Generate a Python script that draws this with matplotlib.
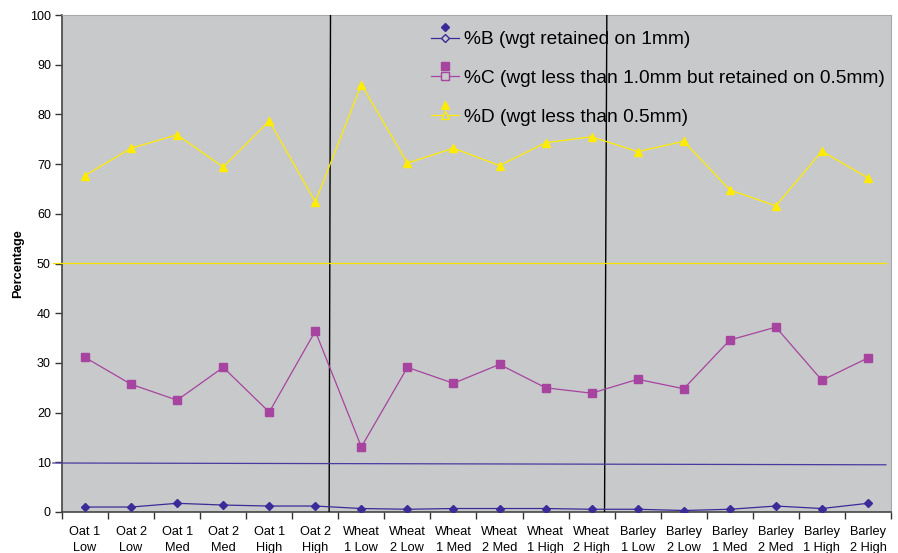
import numpy as np
import matplotlib
matplotlib.use("Agg")
import matplotlib.pyplot as plt
from matplotlib.lines import Line2D
from matplotlib.legend_handler import HandlerLine2D

plt.rcParams['font.family'] = ['Liberation Sans', 'DejaVu Sans']

# categories (two-line tick labels)
categories = ["Oat 1\nLow", "Oat 2\nLow", "Oat 1\nMed", "Oat 2\nMed", "Oat 1\nHigh", "Oat 2\nHigh",
              "Wheat\n1 Low", "Wheat\n2 Low", "Wheat\n1 Med", "Wheat\n2 Med", "Wheat\n1 High", "Wheat\n2 High",
              "Barley\n1 Low", "Barley\n2 Low", "Barley\n1 Med", "Barley\n2 Med", "Barley\n1 High", "Barley\n2 High"]

# series values
pct_b = [1.0, 1.0, 1.75, 1.4, 1.2, 1.2, 0.7, 0.55, 0.7, 0.7, 0.7, 0.55, 0.55, 0.3, 0.55, 1.2, 0.7, 1.75]
pct_c = [31.1, 25.7, 22.5, 29.1, 20.1, 36.4, 13.1, 29.1, 25.9, 29.7, 25.0, 23.9, 26.7, 24.8, 34.6, 37.2, 26.5, 31.0]
pct_d = [67.7, 73.2, 75.9, 69.4, 78.7, 62.4, 86.0, 70.2, 73.2, 69.7, 74.3, 75.5, 72.5, 74.6, 64.8, 61.6, 72.6, 67.2]

labels = ["%B (wgt retained on 1mm)",
          "%C (wgt less than 1.0mm but retained on 0.5mm)",
          "%D (wgt less than 0.5mm)"]

# hand-drawn reference lines on the original chart
sep_lines = [(5.33, 5.30), (11.33, 11.28)]
yellow_ref = 50.1
blue_ref = (9.86, 9.5)

BG = '#c8c9cb'
COL_B = '#3b2b98'
COL_C = '#a6449f'
COL_D = '#ffec00'


class HandlerExcel(HandlerLine2D):
    # excel style legend key: open marker on the line, filled marker above it
    def create_artists(self, legend, orig_handle, xdescent, ydescent, width, height, fontsize, trans):
        artists = super().create_artists(legend, orig_handle, xdescent, ydescent, width, height, fontsize, trans)
        ymid = (height - ydescent) / 2.0
        m = Line2D([width / 2.0 - xdescent], [ymid + 0.8 * height], linestyle='none',
                   marker=orig_handle.get_marker(), color=orig_handle.get_color(),
                   markerfacecolor=orig_handle.get_color(), markersize=orig_handle.get_markersize())
        m.set_transform(trans)
        return list(artists) + [m]


fig = plt.figure(figsize=(8.98, 5.53), dpi=100)
ax = fig.add_axes([62 / 898, 1 - 512 / 553, (891 - 62) / 898, (512 - 15) / 553])
ax.set_facecolor(BG)

x = np.arange(len(categories))
ax.plot(x, pct_b, color=COL_B, lw=0.9, marker='D', markersize=4.2, zorder=4)
ax.plot(x, pct_c, color=COL_C, lw=0.9, marker='s', markersize=5.2, zorder=4)
ax.plot(x, pct_d, color=COL_D, lw=0.9, marker='^', markersize=6, zorder=4)

# reference lines
for xs in sep_lines:
    ax.plot([xs[0], xs[1]], [100, 0], color='black', lw=1.0, zorder=3)
ax.plot([-0.70, 17.39], [yellow_ref, yellow_ref], color='#f5e400', lw=0.9, clip_on=False, zorder=3)
ax.plot([-0.70, 17.39], [blue_ref[0], blue_ref[1]], color='#4a3aa0', lw=0.9, clip_on=False, zorder=3)

ax.set_xlim(-0.5, len(categories) - 0.5)
ax.set_ylim(0, 100)
ax.set_yticks(np.arange(0, 101, 10))
ax.set_xticks(x)
ax.set_xticklabels(categories, fontsize=9.2, linespacing=1.45)
ax.set_xticks(np.arange(-0.5, len(categories), 1), minor=True)
ax.tick_params(axis='x', which='major', length=0, pad=10)
ax.tick_params(axis='x', which='minor', length=5, width=1, color='#333333')
ax.tick_params(axis='y', length=5, width=1, color='#333333', labelsize=9, pad=3)
ax.set_ylabel("Percentage", fontsize=9.2, fontweight='bold', labelpad=4)

for s in ['left', 'bottom']:
    ax.spines[s].set_color('#444444')
    ax.spines[s].set_linewidth(1.2)
for s in ['top', 'right']:
    ax.spines[s].set_color('#a8a8a8')
    ax.spines[s].set_linewidth(0.8)

handles = [Line2D([], [], color=c, lw=0.9, marker=m, markersize=ms, markerfacecolor=BG)
           for c, m, ms in [(COL_B, 'D', 4.2), (COL_C, 's', 5.2), (COL_D, '^', 6)]]
leg = fig.legend(handles, labels, loc='upper left', bbox_to_anchor=(431 / 898, 1 - 31 / 553),
                 frameon=False, fontsize=13.75, handlelength=1.45, handletextpad=0.28,
                 labelspacing=1.12, borderpad=0, borderaxespad=0,
                 handler_map={Line2D: HandlerExcel()})

fig.savefig("out.png", dpi=100)
